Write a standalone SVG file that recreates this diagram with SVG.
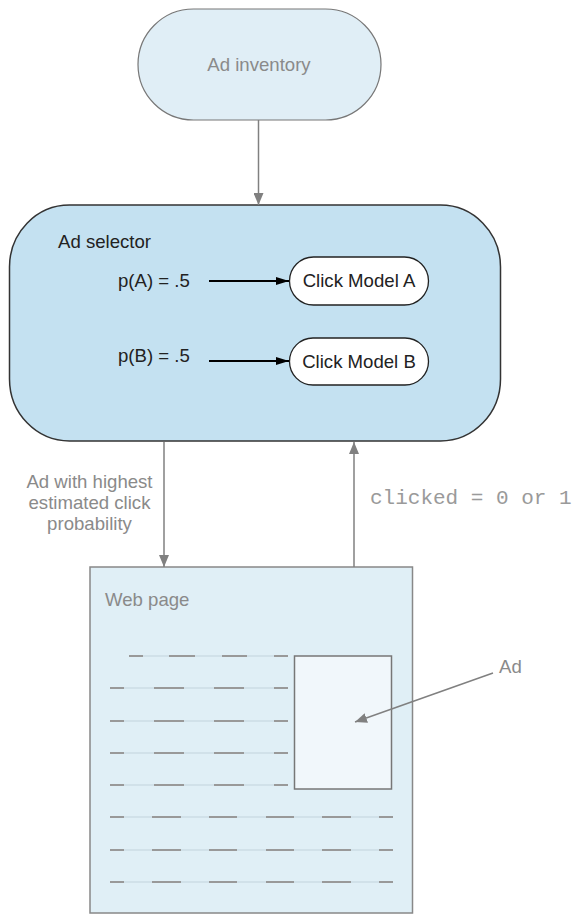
<svg xmlns="http://www.w3.org/2000/svg" width="575" height="915" viewBox="0 0 575 915">
<defs>
<marker id="ag" markerWidth="12" markerHeight="10" refX="12" refY="5" orient="auto" markerUnits="userSpaceOnUse">
<path d="M0,0 L12,5 L0,10 z" fill="#808080"/>
</marker>
<marker id="ab" markerWidth="13" markerHeight="8" refX="13" refY="4" orient="auto" markerUnits="userSpaceOnUse">
<path d="M0,0 L13,4 L0,8 z" fill="#000"/>
</marker>
<style>
.t{font-family:"Liberation Sans",Arial,sans-serif;font-size:18.6px}
.g{fill:#8a8a8a}
.k{fill:#222}
.cg{stroke:#808080;stroke-width:1.5;fill:none}
.cb{stroke:#000;stroke-width:2;fill:none}
.dash{stroke:#999;stroke-width:2}
.thin{stroke:#c2d3dc;stroke-width:1}
</style>
</defs>
<rect width="575" height="915" fill="#fff"/>

<g id="ad-inventory">
<rect x="138" y="9" width="243" height="111" rx="55.5" ry="55.5" fill="#e0eef6" stroke="#777" stroke-width="1.2"/>
<text class="t g" x="259" y="71" text-anchor="middle">Ad inventory</text>
</g>

<g id="ad-selector">
<rect x="9.5" y="205" width="491" height="236" rx="60" ry="62" fill="#c4e1f1" stroke="#333" stroke-width="1.5"/>
<text class="t k" x="58" y="248">Ad selector</text>
<text class="t k" x="118" y="287">p(A) = .5</text>
<text class="t k" x="118" y="362">p(B) = .5</text>
</g>

<g id="click-model-a">
<rect x="289.5" y="257" width="139" height="48" rx="24" fill="#fff" stroke="#222" stroke-width="1.3"/>
<text class="t k" x="359" y="287" text-anchor="middle">Click Model A</text>
</g>

<g id="click-model-b">
<rect x="289.5" y="338" width="139" height="47" rx="23.5" fill="#fff" stroke="#222" stroke-width="1.3"/>
<text class="t k" x="359" y="368" text-anchor="middle">Click Model B</text>
</g>

<g id="web-page">
<rect x="90" y="567" width="322.5" height="346" fill="#e0eff6" stroke="#888" stroke-width="1.5"/>
<text class="t g" x="105" y="606">Web page</text>
<g id="text-lines">
<line class="thin" x1="129" y1="656" x2="288" y2="656"/>
<line class="thin" x1="110" y1="688" x2="288" y2="688"/>
<line class="thin" x1="110" y1="721" x2="288" y2="721"/>
<line class="thin" x1="110" y1="753" x2="288" y2="753"/>
<line class="thin" x1="110" y1="785" x2="288" y2="785"/>
<line class="thin" x1="110" y1="817" x2="393" y2="817"/>
<line class="thin" x1="110" y1="850" x2="393" y2="850"/>
<line class="thin" x1="110" y1="882" x2="393" y2="882"/>
<path class="dash" d="M129,656h14M169,656h26M222,656h25M274,656h14"/>
<path class="dash" d="M110,688h14M154,688h30M214,688h30M274,688h14"/>
<path class="dash" d="M110,721h14M154,721h30M214,721h30M274,721h14"/>
<path class="dash" d="M110,753h14M154,753h30M214,753h30M274,753h14"/>
<path class="dash" d="M110,785h14M154,785h30M214,785h30M274,785h14"/>
<path class="dash" d="M110,817h14M152,817h29M209,817h28M266,817h28M322,817h29M379,817h14"/>
<path class="dash" d="M110,850h14M152,850h29M209,850h28M266,850h28M322,850h29M379,850h14"/>
<path class="dash" d="M110,882h14M152,882h29M209,882h28M266,882h28M322,882h29M379,882h14"/>
</g>
</g>

<g id="ad">
<rect x="294.5" y="656" width="97" height="133" fill="#f1f7fb" stroke="#777" stroke-width="1.5"/>
<text class="t g" x="499" y="673">Ad</text>
</g>

<g id="connectors">
<line class="cg" x1="258.5" y1="120" x2="258.5" y2="205" marker-end="url(#ag)"/>
<line class="cb" x1="209" y1="281" x2="289" y2="281" marker-end="url(#ab)"/>
<line class="cb" x1="209" y1="361" x2="289" y2="361" marker-end="url(#ab)"/>
<line class="cg" x1="164" y1="442" x2="164" y2="567" marker-end="url(#ag)"/>
<line class="cg" x1="354" y1="567" x2="354" y2="442" marker-end="url(#ag)"/>
<line class="cg" x1="493" y1="673" x2="355" y2="722" marker-end="url(#ag)"/>
<g id="edge-labels">
<text class="t g" x="89.5" y="488" text-anchor="middle">Ad with highest</text>
<text class="t g" x="89.5" y="509" text-anchor="middle">estimated click</text>
<text class="t g" x="89.5" y="530" text-anchor="middle">probability</text>
<text x="370" y="504" fill="#9a9a9a" style="font-family:'Liberation Mono','Courier New',monospace;font-size:21px">clicked = 0 or 1</text>
</g>
</g>
</svg>
